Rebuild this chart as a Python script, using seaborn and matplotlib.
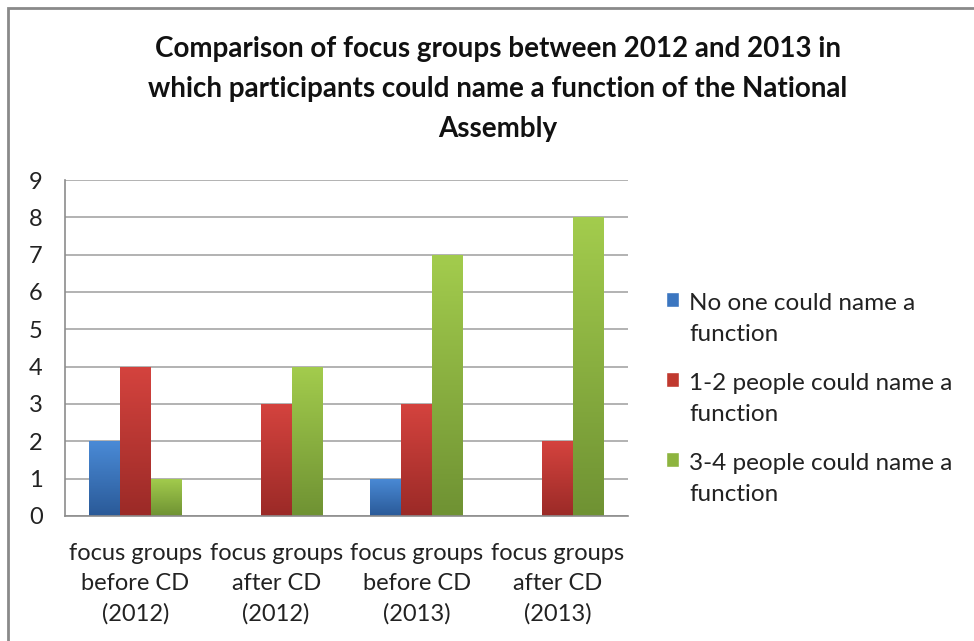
import numpy as np
import pandas as pd
import seaborn as sns
import matplotlib.pyplot as plt
from matplotlib.patches import Rectangle, Patch
from matplotlib.legend_handler import HandlerPatch
from matplotlib.colors import LinearSegmentedColormap

# Data
categories = ["focus groups\nbefore CD\n(2012)", "focus groups\nafter CD\n(2012)",
              "focus groups\nbefore CD\n(2013)", "focus groups\nafter CD\n(2013)"]
series = ["No one could name a\nfunction", "1-2 people could name a\nfunction",
          "3-4 people could name a\nfunction"]
no_one = [2, 0, 1, 0]
one_two = [4, 3, 3, 2]
three_four = [1, 4, 7, 8]

colors = ["#3b76c0", "#c0392f", "#8db43f"]
tops = ["#4a8ad6", "#d4433e", "#a3cc4d"]
bottoms = ["#2a5a98", "#9b2a27", "#6f9233"]

df = pd.DataFrame({
    "group": categories * 3,
    "series": [series[0]] * 4 + [series[1]] * 4 + [series[2]] * 4,
    "count": no_one + one_two + three_four,
})

sns.set_style("white")
plt.rcParams["font.family"] = ["Lato", "DejaVu Sans"]

fig = plt.figure(figsize=(9.74, 6.41), dpi=100)
ax = fig.add_axes([65 / 974, 1 - 516 / 641, 563 / 974, 336 / 641])

sns.barplot(data=df, x="group", y="count", hue="series", order=categories, hue_order=series,
            palette=colors, width=0.66, saturation=1, edgecolor="none", legend=False, ax=ax)

# excel-like vertical gradient on each bar
grad = np.linspace(0, 1, 100).reshape(-1, 1)
for i, cont in enumerate(ax.containers):
    cmap = LinearSegmentedColormap.from_list("g%d" % i, [bottoms[i], tops[i]])
    for p in cont:
        h = p.get_height()
        if h <= 0:
            continue
        x0, w = p.get_x(), p.get_width()
        im = ax.imshow(grad, cmap=cmap, origin="lower", extent=[x0, x0 + w, 0, h],
                       aspect="auto", zorder=p.get_zorder() + 0.1)
        im.set_clip_path(p)

ax.set_xlim(-0.5, 3.5)
ax.set_ylim(0, 9)
ax.set_yticks(range(10))
ax.set_xlabel("")
ax.set_ylabel("")
ax.yaxis.grid(True, color="#a6a6a6", lw=1.2)
ax.set_axisbelow(True)

ax.set_xticks([-0.5, 0.5, 1.5, 2.5, 3.5], minor=True)
ax.tick_params(axis="x", which="major", length=0, pad=19.5, labelsize=17, labelcolor="#222222")
ax.tick_params(axis="x", which="minor", length=8, width=1.2, color="#8c8c8c", direction="out")
ax.tick_params(axis="y", length=6, width=1.2, color="#a6a6a6", direction="out", pad=10,
               labelsize=17, labelcolor="#222222")
for s in ["top", "right"]:
    ax.spines[s].set_visible(False)
for s in ["left", "bottom"]:
    ax.spines[s].set_color("#8c8c8c")
    ax.spines[s].set_linewidth(1.2)
for lab in ax.get_xticklabels():
    lab.set_linespacing(1.52)

fig.text(0.511, 1 - 36 / 641,
         "Comparison of focus groups between 2012 and 2013 in\n"
         "which participants could name a function of the National\nAssembly",
         ha="center", va="top", fontsize=20, weight="bold", color="#111111", linespacing=1.66)


def raised_square(legend, orig_handle, xdescent, ydescent, width, height, fontsize):
    return Rectangle((-xdescent, -ydescent + fontsize * 0.8), width, height)


handles = [Patch(facecolor=c) for c in colors]
leg = fig.legend(handles, series, loc="upper left", bbox_to_anchor=(644 / 974, 1 - 271 / 641),
                 frameon=False, fontsize=17.5, labelspacing=1.15, handlelength=0.55,
                 handleheight=0.55, handletextpad=0.4, labelcolor="#222222",
                 handler_map={Patch: HandlerPatch(patch_func=raised_square)})
for t in leg.get_texts():
    t.set_linespacing(1.6)

# outer chart frame
fig.patches.append(Rectangle((8 / 974, -0.2), 1.5, 1 - 8 / 641 + 0.2, transform=fig.transFigure,
                             fill=False, ec="#8a8a8a", lw=2))

fig.savefig("out.png", dpi=100)
